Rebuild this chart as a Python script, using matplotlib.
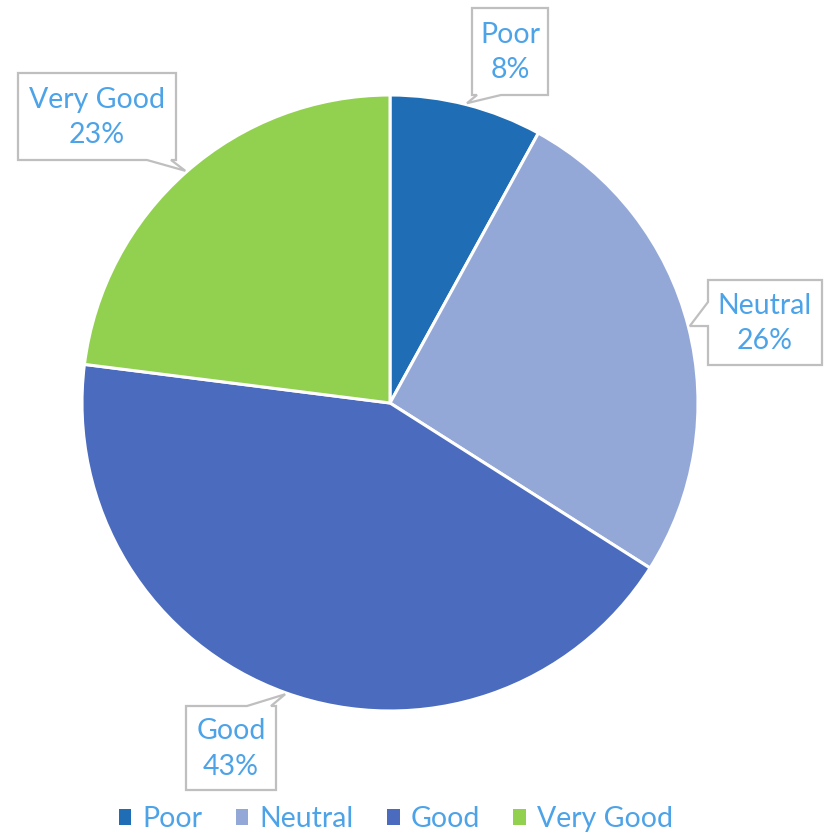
import numpy as np
import matplotlib.pyplot as plt
from matplotlib.patches import Patch, Polygon

# Datos
categorias = ["Poor", "Neutral", "Good", "Very Good"]
porcentajes = [8, 26, 43, 23]
colores = ["#1F6EB5", "#94A8D8", "#4A6BBE", "#92D050"]

color_texto = "#4DA3E8"
color_borde = "#BFBFBF"
fuente = "Lato"

W, H = 833, 836
cx, cy, r = 390, 403, 308
fig = plt.figure(figsize=(W / 100, H / 100), dpi=100)

# Capa en píxeles para las llamadas
capa = fig.add_axes([0, 0, 1, 1])
capa.set_xlim(0, W)
capa.set_ylim(H, 0)
capa.axis("off")

ax = fig.add_axes([(cx - r) / W, (H - cy - r) / H, 2 * r / W, 2 * r / H])
ax.pie(porcentajes, colors=colores, startangle=90, counterclock=False,
       wedgeprops=dict(edgecolor="white", linewidth=2.2))
ax.set_xlim(-1, 1)
ax.set_ylim(-1, 1)
ax.set_aspect("equal")
ax.axis("off")

# Cajas de etiquetas: centro y tamaño en píxeles
centros = [(510, 51.5), (765, 322.5), (231, 748), (97, 116.5)]
tamanos = [(76, 87), (114, 85), (90, 84), (158, 87)]

# Punta de cada llamada: ángulo medio de cada porción
fin = 90 - 3.6 * np.cumsum(porcentajes)
ini = fin + 3.6 * np.array(porcentajes)
medio = np.radians((ini + fin) / 2)


def llamada(c, s, tip, base=24):
    x0, x1 = c[0] - s[0] / 2, c[0] + s[0] / 2
    y0, y1 = c[1] - s[1] / 2, c[1] + s[1] / 2
    tx, ty = tip
    if ty > y1 or ty < y0:
        a = np.clip(tx, x0 + 5, x1 - 5)
        b = a + base if c[0] > a else a - base
        lo, hi = sorted([a, b])
        if ty > y1:
            pts = [(x0, y0), (x1, y0), (x1, y1), (hi, y1), (tx, ty), (lo, y1), (x0, y1)]
        else:
            pts = [(x0, y0), (lo, y0), (tx, ty), (hi, y0), (x1, y0), (x1, y1), (x0, y1)]
    else:
        a = np.clip(ty, y0 + 5, y1 - 5)
        b = a + base if c[1] > a else a - base
        lo, hi = sorted([a, b])
        if tx < x0:
            pts = [(x0, y0), (x1, y0), (x1, y1), (x0, y1), (x0, hi), (tx, ty), (x0, lo)]
        else:
            pts = [(x0, y0), (x1, y0), (x1, lo), (tx, ty), (x1, hi), (x1, y1), (x0, y1)]
    return pts


for cat, pct, c, s, ang in zip(categorias, porcentajes, centros, tamanos, medio):
    tip = (cx + 1.005 * r * np.cos(ang), cy - 1.005 * r * np.sin(ang))
    capa.add_patch(Polygon(llamada(c, s, tip), closed=True, fc="white",
                           ec=color_borde, lw=1.6, zorder=3))
    capa.text(c[0], c[1] + 1, f"{cat}\n{pct}%", ha="center", va="center",
              fontsize=20.5, color=color_texto, family=fuente,
              linespacing=1.45, zorder=4)

capa.set_zorder(2)

# Leyenda
handles = [Patch(facecolor=c, edgecolor="none") for c in colores]
leg = fig.legend(handles, categorias, loc="center", bbox_to_anchor=(396 / W, 1 - 819 / H),
                 ncol=4, frameon=False, handlelength=0.45, handleheight=0.45,
                 handletextpad=0.4, columnspacing=1.15,
                 prop=dict(family=fuente, size=20.5))
for t in leg.get_texts():
    t.set_color(color_texto)

fig.savefig("out.png", dpi=100)
